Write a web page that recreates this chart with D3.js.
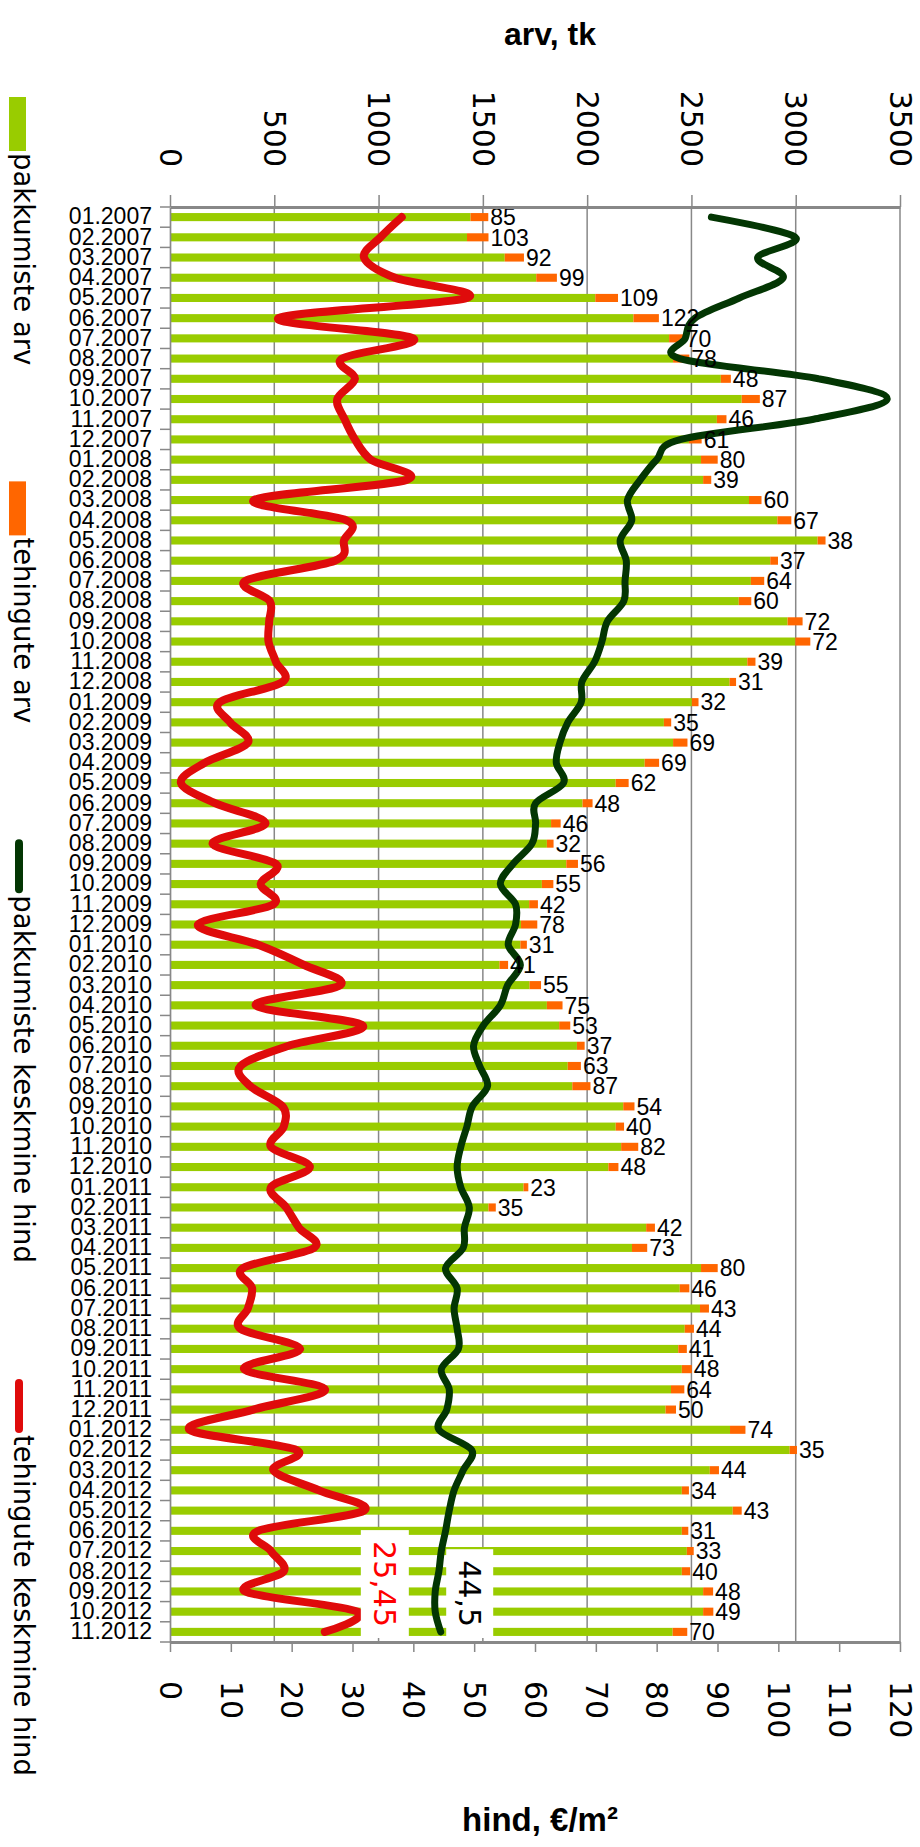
<!DOCTYPE html>
<html><head><meta charset="utf-8">
<script src="https://cdn.jsdelivr.net/npm/d3@7"></script>
<style>body{margin:0;background:#fff}svg{display:block}</style>
</head><body>
<svg id="c" width="920" height="1847"></svg>
<script>
// ---- data ----
const months = [
 "01.2007","02.2007","03.2007","04.2007","05.2007","06.2007","07.2007","08.2007","09.2007","10.2007","11.2007","12.2007",
 "01.2008","02.2008","03.2008","04.2008","05.2008","06.2008","07.2008","08.2008","09.2008","10.2008","11.2008","12.2008",
 "01.2009","02.2009","03.2009","04.2009","05.2009","06.2009","07.2009","08.2009","09.2009","10.2009","11.2009","12.2009",
 "01.2010","02.2010","03.2010","04.2010","05.2010","06.2010","07.2010","08.2010","09.2010","10.2010","11.2010","12.2010",
 "01.2011","02.2011","03.2011","04.2011","05.2011","06.2011","07.2011","08.2011","09.2011","10.2011","11.2011","12.2011",
 "01.2012","02.2012","03.2012","04.2012","05.2012","06.2012","07.2012","08.2012","09.2012","10.2012","11.2012"];
// pakkumiste arv (offers)
const offers = [
 1441,1424,1605,1756,2039,2222,2393,2412,2641,2741,2622,2488,
 2546,2556,2776,2912,3105,2878,2785,2727,2961,2998,2768,2683,
 2502,2368,2412,2276,2137,1978,1827,1807,1900,1783,1722,1683,
 1680,1580,1724,1807,1866,1951,1907,1929,2173,2137,2163,2102,
 1695,1527,2283,2215,2546,2444,2541,2468,2437,2454,2402,2376,
 2685,2971,2588,2454,2698,2454,2478,2454,2556,2556,2410];
// tehingute arv (deals)
const deals = [
 85,103,92,99,109,122,70,78,48,87,46,61,
 80,39,60,67,38,37,64,60,72,72,39,31,
 32,35,69,69,62,48,46,32,56,55,42,78,
 31,41,55,75,53,37,63,87,54,40,82,48,
 23,35,42,73,80,46,43,44,41,48,64,50,
 74,35,44,34,43,31,33,40,48,49,70];
// pakkumiste keskmine hind
const offerPrice = [
 89.0,102.8,96.6,100.8,93.6,86.3,84.7,83.8,106.6,117.9,105.8,84.0,
 80.0,77.3,75.2,75.9,74.0,75.0,74.8,74.6,71.9,71.0,69.8,67.7,
 67.6,65.4,64.1,63.5,64.7,60.1,60.1,59.5,56.4,54.3,56.8,56.8,
 55.6,57.6,55.5,54.3,51.5,49.9,50.9,52.2,49.7,48.8,47.8,47.2,
 47.8,49.2,48.4,48.2,45.3,47.2,46.7,47.2,47.4,44.6,45.9,45.5,
 44.2,49.6,48.2,46.7,45.9,45.3,44.6,44.2,43.6,43.6,44.5];
// tehingute keskmine hind
const dealPrice = [
 38.1,34.6,31.9,37.0,48.8,17.8,40.0,28.3,30.4,27.5,28.7,30.4,
 33.0,38.9,13.8,29.0,28.6,27.1,12.4,16.4,16.3,16.2,17.4,18.5,
 8.2,9.9,12.8,5.7,1.8,7.4,15.7,7.0,17.4,14.9,17.0,4.6,
 14.5,22.0,28.0,14.1,31.7,19.5,11.6,13.2,18.5,18.7,16.6,23.0,
 16.6,19.1,21.2,23.7,12.0,13.5,12.8,11.6,21.4,12.2,25.5,13.7,
 3.2,20.8,17.0,24.5,31.9,14.5,16.6,18.7,12.4,30.8,25.45];
const countTicks = [0,500,1000,1500,2000,2500,3000,3500];
const priceTicks = [0,10,20,30,40,50,60,70,80,90,100,110,120];
const legendItems = ["pakkumiste arv","tehingute arv","pakkumiste keskmine hind","tehingute keskmine hind"];
const countTitle = "arv, tk";
const priceTitle = "hind, €/m²";

// ---- style ----
const C = {green:"#99cc00", orange:"#ff6600", dark:"#033603", red:"#df0b0b", axis:"#888888"};
const P = {left:170, right:900, top:207, bottom:1642};
const svg = d3.select("#c");

const y = d3.scaleBand().domain(months).range([P.top, P.bottom]).paddingInner(0.6).paddingOuter(0.3);
const step = y.step();
const cy = m => y(m) + y.bandwidth()/2;
const xC = d3.scaleLinear().domain([0,3500]).range([P.left, P.right]);
const xP = d3.scaleLinear().domain([0,120]).range([P.left, P.right]);

// gridlines
svg.append("g").selectAll("line").data(countTicks.slice(1)).join("line")
  .attr("x1", d=>xC(d)).attr("x2", d=>xC(d)).attr("y1", P.top).attr("y2", P.bottom)
  .attr("stroke", C.axis).attr("stroke-width", 1.5);

// bars
const rows = months.map((m,i)=>({m, o:offers[i], d:deals[i], op:offerPrice[i], dp:dealPrice[i]}));
svg.append("g").selectAll("rect").data(rows).join("rect")
  .attr("x", xC(0)).attr("y", d=>y(d.m)).attr("height", y.bandwidth())
  .attr("width", d=>xC(d.o)-xC(0)).attr("fill", C.green);
svg.append("g").selectAll("rect").data(rows).join("rect")
  .attr("x", d=>xC(d.o)).attr("y", d=>y(d.m)).attr("height", y.bandwidth())
  .attr("width", d=>xC(d.o+d.d)-xC(d.o)).attr("fill", C.orange);

// lines
const lineGen = acc => d3.line().x(d=>xP(acc(d))).y(d=>cy(d.m)).curve(d3.curveCardinal.tension(0));
svg.append("path").datum(rows).attr("d", lineGen(d=>d.op))
  .attr("fill","none").attr("stroke", C.dark).attr("stroke-width", 7).attr("stroke-linecap","round").attr("stroke-linejoin","round");
svg.append("path").datum(rows).attr("d", lineGen(d=>d.dp))
  .attr("fill","none").attr("stroke", C.red).attr("stroke-width", 8).attr("stroke-linecap","round").attr("stroke-linejoin","round");

// deal count labels
svg.append("g").selectAll("text").data(rows).join("text")
  .attr("x", d=>xC(d.o+d.d)+2).attr("y", d=>cy(d.m)).attr("dy","0.36em")
  .attr("font-family","Liberation Sans, Arial, sans-serif").attr("font-size", 23).attr("fill","#000")
  .text(d=>d.d);

// top axis
const gTop = svg.append("g").attr("transform",`translate(0,${P.top})`)
  .call(d3.axisTop(xC).tickValues(countTicks).tickFormat(d3.format("d")).tickSize(12).tickSizeOuter(0));
gTop.select(".domain").attr("stroke", C.axis).attr("stroke-width", 3);
gTop.selectAll(".tick line").attr("stroke", C.axis).attr("stroke-width", 1.5);
gTop.selectAll(".tick text").attr("x",0).attr("y",0).attr("dy","0.36em")
  .attr("transform","translate(0,-40) rotate(90)").attr("text-anchor","end")
  .attr("font-family","DejaVu Sans, Verdana, sans-serif").attr("font-size",30).attr("fill","#000");

// bottom axis
const gBot = svg.append("g").attr("transform",`translate(0,${P.bottom})`)
  .call(d3.axisBottom(xP).tickValues(priceTicks).tickFormat(d3.format("d")).tickSize(10).tickSizeOuter(0));
gBot.select(".domain").attr("stroke", C.axis).attr("stroke-width", 3);
gBot.selectAll(".tick line").attr("stroke", C.axis).attr("stroke-width", 1.5);
gBot.selectAll(".tick text").attr("x",0).attr("y",0).attr("dy","0.36em")
  .attr("transform","translate(0,39) rotate(90)").attr("text-anchor","start")
  .attr("font-family","DejaVu Sans, Verdana, sans-serif").attr("font-size",30).attr("fill","#000");

// left category axis
const gL = svg.append("g").attr("transform",`translate(${P.left},0)`)
  .call(d3.axisLeft(y).tickSize(0).tickPadding(18));
gL.select(".domain").attr("stroke", C.axis).attr("stroke-width", 1.7);
gL.selectAll(".tick text").attr("font-family","Liberation Sans, Arial, sans-serif").attr("font-size",23).attr("fill","#000");
svg.append("g").selectAll("line").data(d3.range(months.length+1)).join("line")
  .attr("x1", P.left-10).attr("x2", P.left).attr("y1", i=>P.top+i*step).attr("y2", i=>P.top+i*step)
  .attr("stroke", C.axis).attr("stroke-width", 1.5);

// last-value labels
const last = rows[rows.length-1];
function valLabel(v, x0, w, color){
  const s = String(v).replace(".", ",");
  const g = svg.append("g");
  const t = g.append("text").attr("font-family","DejaVu Sans, Verdana, sans-serif").attr("font-size",30)
    .attr("fill",color).attr("text-anchor","middle").attr("dy","0.36em").text(s);
  const len = t.node().getComputedTextLength();
  const h = len + 22, bottom = P.bottom - 4;
  g.insert("rect","text").attr("x",x0).attr("y",bottom-h).attr("width",w).attr("height",h).attr("fill","#fff");
  t.attr("transform",`translate(${x0+w/2},${bottom-h/2}) rotate(90)`);
}
valLabel(last.dp, xP(last.dp)+36, 48, "#ff0000");
valLabel(last.op, xP(last.op)+5.5, 47, "#000");

// titles
svg.append("text").attr("x",550).attr("y",45).attr("text-anchor","middle")
  .attr("font-family","Liberation Sans, Arial, sans-serif").attr("font-weight","bold").attr("font-size",32).text(countTitle);
svg.append("text").attr("x",540).attr("y",1831).attr("text-anchor","middle")
  .attr("font-family","Liberation Sans, Arial, sans-serif").attr("font-weight","bold").attr("font-size",33).text(priceTitle);

// legend (rotated, left side)
const legColors = [C.green, C.orange, C.dark, C.red];
let ly = 97;
legendItems.forEach((name,i)=>{
  const g = svg.append("g");
  if (i < 2) g.append("rect").attr("x",9).attr("y",ly).attr("width",17).attr("height",54).attr("fill",legColors[i]);
  else g.append("line").attr("x1",19).attr("x2",19).attr("y1",ly+4).attr("y2",ly+50)
        .attr("stroke",legColors[i]).attr("stroke-width",8).attr("stroke-linecap","round");
  const t = g.append("text").attr("transform",`translate(14,${ly+56}) rotate(90)`)
    .attr("font-family","DejaVu Sans, Verdana, sans-serif").attr("font-size",27.5).attr("fill","#000").text(name);
  ly += 56 + t.node().getComputedTextLength() + 116;
});
</script>
</body></html>
